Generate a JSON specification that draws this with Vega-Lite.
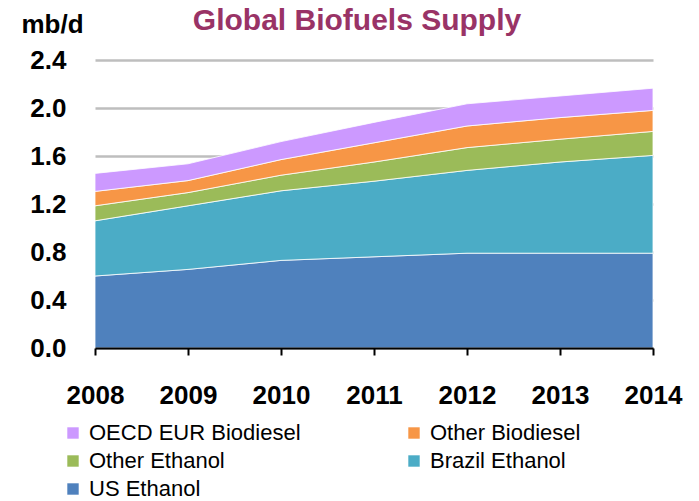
{
  "$schema": "https://vega.github.io/schema/vega-lite/v6.json",
  "width": 558,
  "height": 288,
  "autosize": {"type": "none"},
  "padding": {"left": 95, "top": 60, "right": 46, "bottom": 153},
  "background": "white",
  "title": {
    "text": "Global Biofuels Supply",
    "anchor": "middle",
    "frame": "group",
    "dx": -17,
    "font": "Liberation Sans",
    "fontSize": 30,
    "fontWeight": "bold",
    "color": "#993366",
    "baseline": "alphabetic",
    "offset": -49
  },
  "config": {
    "view": {"stroke": null},
    "font": "Liberation Sans"
  },
  "data": {
    "values": [
      {"year": 2008, "series": "US Ethanol", "rank": 1, "value": 0.60},
      {"year": 2008, "series": "Brazil Ethanol", "rank": 2, "value": 0.46},
      {"year": 2008, "series": "Other Ethanol", "rank": 3, "value": 0.125},
      {"year": 2008, "series": "Other Biodiesel", "rank": 4, "value": 0.12},
      {"year": 2008, "series": "OECD EUR Biodiesel", "rank": 5, "value": 0.15},
      {"year": 2009, "series": "US Ethanol", "rank": 1, "value": 0.655},
      {"year": 2009, "series": "Brazil Ethanol", "rank": 2, "value": 0.53},
      {"year": 2009, "series": "Other Ethanol", "rank": 3, "value": 0.11},
      {"year": 2009, "series": "Other Biodiesel", "rank": 4, "value": 0.10},
      {"year": 2009, "series": "OECD EUR Biodiesel", "rank": 5, "value": 0.14},
      {"year": 2010, "series": "US Ethanol", "rank": 1, "value": 0.73},
      {"year": 2010, "series": "Brazil Ethanol", "rank": 2, "value": 0.58},
      {"year": 2010, "series": "Other Ethanol", "rank": 3, "value": 0.13},
      {"year": 2010, "series": "Other Biodiesel", "rank": 4, "value": 0.13},
      {"year": 2010, "series": "OECD EUR Biodiesel", "rank": 5, "value": 0.15},
      {"year": 2011, "series": "US Ethanol", "rank": 1, "value": 0.76},
      {"year": 2011, "series": "Brazil Ethanol", "rank": 2, "value": 0.63},
      {"year": 2011, "series": "Other Ethanol", "rank": 3, "value": 0.16},
      {"year": 2011, "series": "Other Biodiesel", "rank": 4, "value": 0.16},
      {"year": 2011, "series": "OECD EUR Biodiesel", "rank": 5, "value": 0.17},
      {"year": 2012, "series": "US Ethanol", "rank": 1, "value": 0.79},
      {"year": 2012, "series": "Brazil Ethanol", "rank": 2, "value": 0.69},
      {"year": 2012, "series": "Other Ethanol", "rank": 3, "value": 0.19},
      {"year": 2012, "series": "Other Biodiesel", "rank": 4, "value": 0.18},
      {"year": 2012, "series": "OECD EUR Biodiesel", "rank": 5, "value": 0.185},
      {"year": 2013, "series": "US Ethanol", "rank": 1, "value": 0.79},
      {"year": 2013, "series": "Brazil Ethanol", "rank": 2, "value": 0.76},
      {"year": 2013, "series": "Other Ethanol", "rank": 3, "value": 0.19},
      {"year": 2013, "series": "Other Biodiesel", "rank": 4, "value": 0.18},
      {"year": 2013, "series": "OECD EUR Biodiesel", "rank": 5, "value": 0.18},
      {"year": 2014, "series": "US Ethanol", "rank": 1, "value": 0.79},
      {"year": 2014, "series": "Brazil Ethanol", "rank": 2, "value": 0.815},
      {"year": 2014, "series": "Other Ethanol", "rank": 3, "value": 0.20},
      {"year": 2014, "series": "Other Biodiesel", "rank": 4, "value": 0.175},
      {"year": 2014, "series": "OECD EUR Biodiesel", "rank": 5, "value": 0.185}
    ]
  },
  "mark": {"type": "area", "stroke": "white", "strokeWidth": 1, "strokeOpacity": 0.8},
  "encoding": {
    "x": {
      "field": "year",
      "type": "quantitative",
      "scale": {"domain": [2008, 2014], "nice": false, "zero": false},
      "axis": {
        "title": null,
        "values": [2008, 2009, 2010, 2011, 2012, 2013, 2014],
        "format": "d",
        "grid": false,
        "zindex": 1,
        "domainColor": "black",
        "domainWidth": 2,
        "tickColor": "black",
        "tickWidth": 2,
        "tickSize": 7,
        "labelPadding": 27,
        "labelFont": "Liberation Sans",
        "labelFontSize": 26,
        "labelFontWeight": "bold",
        "labelColor": "black",
        "labelFlush": false,
        "labelOverlap": false
      }
    },
    "y": {
      "field": "value",
      "type": "quantitative",
      "stack": "zero",
      "scale": {"domain": [0, 2.4], "nice": false},
      "axis": {
        "title": "mb/d",
        "titleAngle": 0,
        "titleAlign": "left",
        "titleBaseline": "alphabetic",
        "titleX": -74,
        "titleY": -28,
        "titleFont": "Liberation Sans",
        "titleFontSize": 26,
        "titleFontWeight": "bold",
        "titleColor": "black",
        "values": [0, 0.4, 0.8, 1.2, 1.6, 2.0, 2.4],
        "format": ".1f",
        "domain": false,
        "ticks": false,
        "gridColor": "#BEBEBE",
        "gridWidth": 2.5,
        "labelPadding": 29,
        "labelFont": "Liberation Sans",
        "labelFontSize": 26,
        "labelFontWeight": "bold",
        "labelColor": "black"
      }
    },
    "color": {
      "field": "series",
      "type": "nominal",
      "scale": {
        "domain": ["OECD EUR Biodiesel", "Other Ethanol", "US Ethanol", "Other Biodiesel", "Brazil Ethanol"],
        "range": ["#CC99FF", "#9BBB59", "#4F81BD", "#F79646", "#4BACC6"]
      },
      "legend": {
        "title": null,
        "orient": "none",
        "legendX": -33,
        "legendY": 362,
        "columns": 2,
        "columnPadding": 102,
        "rowPadding": 6,
        "padding": 0,
        "symbolType": "square",
        "symbolSize": 130,
        "symbolStrokeWidth": 0,
        "symbolOpacity": 1,
        "labelFont": "Liberation Sans",
        "labelFontSize": 22,
        "labelColor": "black",
        "labelOffset": 5,
        "labelLimit": 300
      }
    },
    "order": {"field": "rank", "type": "quantitative"}
  }
}
